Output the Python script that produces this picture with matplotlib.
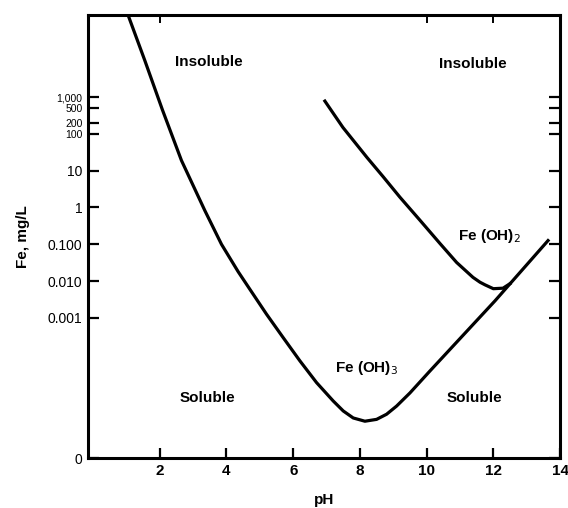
#!/usr/bin/env python3
"""Solubility of Fe(OH)3 and Fe(OH)2 as a function of pH."""
import matplotlib
matplotlib.use("Agg")
import matplotlib.pyplot as plt

# Fe(OH)3 boundary (pH, Fe in mg/L)
ph_fe3 = [1.05, 1.55, 2.08, 2.65, 3.35, 3.85, 4.35, 4.70, 5.20, 5.70, 6.20,
          6.70, 7.20, 7.50, 7.80, 8.15, 8.50, 8.80, 9.10, 9.50, 10.10, 12.05,
          13.64]
fe3 = [1.7e5, 1.0e4, 450, 19, 0.83, 0.10, 0.018, 6.0e-3, 1.26e-3, 2.9e-4,
       6.8e-5, 1.74e-5, 5.5e-6, 2.95e-6, 1.9e-6, 1.55e-6, 1.74e-6, 2.4e-6,
       4.0e-6, 9.1e-6, 3.6e-5, 2.9e-3, 0.126]

# Fe(OH)2 boundary
ph_fe2 = [6.95, 7.49, 8.21, 8.70, 9.20, 9.80, 10.40, 10.90, 11.39, 11.60,
          11.75, 12.00, 12.29, 12.50]
fe2 = [780, 150, 23, 6.8, 1.9, 0.45, 0.105, 0.032, 0.0126, 0.0093, 0.0079,
       0.0062, 0.0064, 0.0085]

x_ticks = [2, 4, 6, 8, 10, 12, 14]
y_ticks = [0.001, 0.01, 0.1, 1, 10, 100, 200, 500, 1000]
y_labels = ["0.001", "0.010", "0.100", "1", "10", "100", "200", "500", "1,000"]
y_bottom, y_top = 1.55e-7, 1.7e5

plt.rcParams["font.family"] = ["Liberation Sans", "DejaVu Sans"]

fig = plt.figure(figsize=(5.68, 5.08), dpi=100)
ax = fig.add_axes([0.155, 0.0984, 0.831, 0.872])

ax.plot(ph_fe3, fe3, color="black", lw=2.3, solid_joinstyle="round")
ax.plot(ph_fe2, fe2, color="black", lw=2.3, solid_joinstyle="round")

ax.set_yscale("log")
ax.set_xlim(-0.15, 14)
ax.set_ylim(y_bottom, y_top)

ax.set_xticks(x_ticks)
ax.set_xticklabels([str(t) for t in x_ticks], fontsize=11, fontweight="bold")
ax.set_yticks(y_ticks + [y_bottom])
labels = ax.set_yticklabels(y_labels + ["0"], fontsize=10)
# the 100..1,000 labels sit close together, keep them small
for lab, val in zip(labels, y_ticks + [y_bottom]):
    if val >= 100:
        lab.set_fontsize(7.5)
ax.yaxis.set_minor_locator(matplotlib.ticker.NullLocator())
ax.tick_params(axis="both", direction="in", length=7, width=1.6, pad=4)
ax.tick_params(axis="y", right=True, length=8)

# a few marks on the top edge
sec = ax.secondary_xaxis("top")
sec.set_xticks([2, 10, 12])
sec.set_xticklabels([])
sec.tick_params(direction="in", length=6, width=1.4)
sec.spines["top"].set_visible(False)

for s in ax.spines.values():
    s.set_linewidth(2.2)

ax.set_xlabel("pH", fontsize=11, fontweight="bold", labelpad=11)
ax.set_ylabel("Fe, mg/L", fontsize=11, fontweight="bold", labelpad=13)

txt = dict(ha="center", va="center", fontsize=11, fontweight="semibold")
ax.text(3.47, 9000, "Insoluble", **txt)
ax.text(11.39, 8000, "Insoluble", **txt)
ax.text(3.44, 6.8e-6, "Soluble", **txt)
ax.text(11.42, 6.8e-6, "Soluble", **txt)
ax.text(8.19, 4.4e-5, "Fe (OH)$_3$", **txt)
ax.text(11.88, 0.17, "Fe (OH)$_2$", **txt)

fig.savefig("out.png", dpi=100, facecolor="white")
